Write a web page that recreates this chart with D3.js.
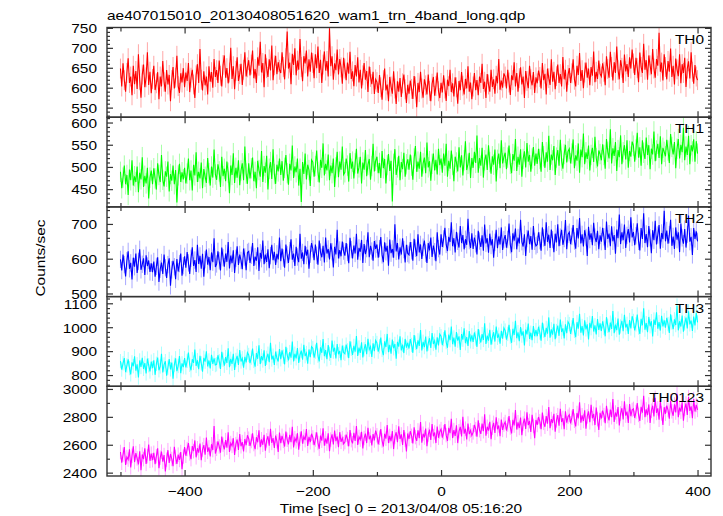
<!DOCTYPE html>
<html><head><meta charset="utf-8">
<script src="https://cdn.jsdelivr.net/npm/d3@7"></script>
<style>
body{margin:0;background:#fff}
svg{display:block}
text{font-family:"Liberation Sans",Arial,Helvetica,sans-serif;fill:#000}
</style>
</head><body>
<svg id="chart" width="723" height="516"></svg>
<script>
// ---- data: count rates in 2 s bins starting at -500 s ----
const tStart = -500, tStep = 2;
const th0 = [
648,603,661,619,590,637,674,612,628,581,655,609,642,597,684,620,575,633,658,601,626,689,607,640,586,
622,655,594,611,639,571,628,603,667,615,590,644,608,632,566,619,652,598,625,680,604,587,636,613,649,
601,638,617,662,589,625,645,608,574,631,659,612,697,620,593,641,606,628,583,654,615,639,600,672,627,
644,612,668,630,603,657,681,625,649,611,638,700,622,654,596,642,676,617,634,660,607,645,689,628,651,
669,631,658,693,624,647,612,676,655,715,638,662,601,684,649,627,671,643,706,619,656,680,634,664,645,
637,689,652,621,674,741,648,663,609,685,657,699,631,668,645,722,652,616,679,661,693,628,671,640,688,
662,624,684,649,703,637,670,612,658,691,643,667,628,749,654,679,620,661,644,696,633,672,651,610,675,
648,619,663,635,690,622,641,604,657,628,676,613,645,598,631,662,620,642,589,653,627,609,640,584,621,
614,587,632,601,570,619,648,593,608,566,627,603,585,641,598,559,616,590,624,577,611,633,596,562,607,
585,618,597,572,629,603,551,612,589,640,598,575,621,606,583,633,592,566,610,627,580,604,638,591,574,
612,588,631,598,567,620,604,645,589,611,578,626,601,560,617,594,639,605,583,622,598,654,590,613,571,
603,637,594,619,581,628,612,660,597,615,574,634,608,590,645,602,621,585,630,611,672,595,618,600,636,
628,598,645,613,582,631,619,664,603,637,590,624,651,608,628,574,642,617,599,655,621,606,639,587,626,
611,643,627,598,662,619,635,583,648,624,607,671,615,640,596,629,658,612,634,603,677,621,645,590,632,
649,612,636,671,620,603,655,632,687,617,644,599,638,663,625,648,606,652,630,691,614,640,622,668,635,
628,661,640,606,679,647,625,690,652,618,664,637,703,645,621,669,650,612,683,641,659,627,676,648,696,
661,632,675,649,614,688,652,637,710,645,669,620,681,656,634,697,648,625,672,655,738,640,663,618,684,
652,621,667,640,698,627,655,608,673,646,629,684,611,659,637,675,602,648,666,623,689,640,610,657,628,
619];
const th1 = [
489,452,476,503,461,482,437,494,470,515,458,479,466,501,443,487,472,522,455,480,463,498,429,476,492,
461,497,474,449,508,482,466,527,471,456,490,478,512,445,484,469,503,461,493,420,481,507,466,488,472,
498,463,485,519,470,492,447,505,481,533,466,489,474,510,452,495,478,464,520,486,458,501,476,539,483,
471,506,490,455,523,479,496,468,512,487,441,503,482,531,464,498,476,515,459,492,508,470,546,485,462,
508,474,497,521,468,489,452,514,493,478,536,466,502,487,525,449,496,511,473,540,484,462,505,490,519,
482,513,469,498,527,486,460,507,492,548,475,501,488,519,458,496,421,511,484,530,472,505,493,457,516,
511,478,502,537,489,465,516,498,553,481,507,492,528,470,503,486,519,455,499,534,477,512,494,546,483,
488,519,503,467,531,496,512,474,508,541,485,499,523,463,510,494,538,479,505,518,471,502,552,490,514,
523,486,509,475,536,497,518,463,504,529,491,514,422,507,540,482,499,525,470,511,495,532,478,506,517,
494,528,503,471,519,547,489,512,496,534,478,508,521,486,555,499,513,469,507,530,492,516,483,541,504,
519,487,530,503,552,478,514,496,537,505,468,523,510,490,544,499,526,481,515,558,493,507,532,475,520,
498,534,509,571,487,520,503,543,476,515,528,493,549,511,485,524,505,539,467,516,530,497,560,508,522,
532,495,521,548,507,486,529,514,563,491,523,505,540,478,518,535,499,554,512,527,489,519,545,503,530,
507,541,518,489,556,524,498,533,512,570,493,528,515,547,482,521,538,503,561,514,496,529,550,510,535,
541,508,530,562,497,526,514,553,487,539,522,575,506,533,518,548,492,527,543,511,568,520,501,537,529,
515,551,527,496,563,534,519,585,508,542,525,556,491,538,522,571,506,533,549,517,560,498,536,523,557,
548,512,539,577,521,544,503,560,532,518,566,527,549,495,541,528,580,513,537,552,520,569,506,543,534,
524,561,537,509,574,545,528,556,497,541,563,519,550,533,588,515,546,527,570,506,549,535,562,512,558,
530];
const th2 = [
598,566,612,583,549,594,621,571,588,540,603,577,615,559,592,627,568,584,601,553,610,579,595,562,587,
561,592,548,578,604,533,570,589,556,612,574,545,583,601,522,568,594,577,541,599,563,586,615,551,580,
607,574,619,588,556,601,633,579,596,562,640,585,608,571,614,548,597,626,583,605,567,618,590,659,576,
585,621,594,566,632,603,577,615,591,648,572,609,587,624,559,601,636,582,612,595,570,629,605,567,618,
621,588,610,645,579,606,594,633,565,617,600,652,584,612,591,627,573,609,640,596,620,582,614,598,661,
593,629,602,574,641,611,588,623,656,597,615,579,634,605,590,672,600,618,584,637,609,626,571,613,645,
628,596,641,610,583,652,619,604,637,589,661,615,628,598,644,620,575,634,612,683,601,625,607,649,622,
609,645,618,587,660,626,601,638,615,672,597,631,620,654,588,642,613,629,676,604,637,622,594,651,628,
641,603,629,662,611,590,647,620,637,580,655,616,628,603,699,621,645,598,633,612,659,626,589,640,615,
611,648,623,594,657,630,607,670,618,641,599,633,652,616,588,645,624,661,605,638,620,593,676,629,612,
670,634,657,689,641,622,663,648,705,636,659,618,677,650,632,694,645,668,627,656,640,715,652,631,673,
628,661,643,612,680,651,634,667,623,698,644,659,617,672,638,656,603,647,683,630,664,641,690,625,655,
668,632,655,701,640,619,673,652,687,627,661,644,712,649,635,670,608,658,681,642,665,626,694,650,637,
641,676,652,623,690,660,637,705,648,669,631,684,655,619,672,647,699,636,662,683,640,658,711,627,670,
676,642,664,697,651,629,688,658,717,644,670,635,682,661,608,692,655,673,639,703,662,648,680,627,667,
649,689,663,625,707,657,672,636,693,650,668,614,684,659,727,642,676,653,698,631,667,685,647,719,661,
677,639,666,702,650,624,688,657,731,645,671,633,694,660,616,682,653,709,641,668,697,629,674,656,738,
650,681,643,669,712,637,664,628,690,655,676,619,701,660,643,685,632,670,724,649,663,611,688,657,679,
650];
const th3 = [
858,823,849,871,812,840,866,829,803,853,837,878,818,845,790,861,834,872,826,850,807,869,841,815,856,
829,862,801,847,873,820,836,889,811,844,858,797,831,867,824,852,785,843,870,816,838,879,808,849,833,
871,832,859,894,843,820,866,851,907,838,862,825,880,849,814,872,856,899,836,861,828,885,847,870,842,
845,883,858,826,897,864,839,875,851,912,833,868,847,889,821,863,880,842,905,857,870,831,876,853,894,
884,850,873,911,859,835,892,868,924,846,879,861,903,838,872,889,854,935,865,881,842,898,870,857,909,
866,903,877,845,918,884,861,896,873,940,857,889,870,913,851,885,902,864,926,879,892,848,907,875,919,
912,873,898,935,881,857,916,893,951,879,904,866,925,889,872,944,898,914,869,930,887,901,862,923,894,
889,927,903,871,941,910,884,922,898,963,880,915,893,937,874,908,929,887,952,906,919,876,933,900,945,
934,898,920,957,905,883,941,917,972,896,926,889,948,912,930,868,939,919,962,903,927,892,951,915,935,
911,950,926,893,967,935,908,945,922,988,903,939,917,961,899,932,954,913,976,930,944,906,958,924,971,
962,925,950,987,938,914,969,946,1003,929,957,919,980,944,962,905,971,948,995,933,959,922,984,941,966,
939,978,953,918,992,960,936,971,947,1016,930,965,944,989,927,958,979,940,1003,956,969,931,985,952,997,
986,948,972,1010,961,935,993,968,1027,954,979,942,1001,965,983,924,990,970,1015,951,977,946,1005,963,988,
963,1002,978,944,1019,986,959,997,973,1041,956,991,969,1014,950,984,1007,964,1032,980,995,953,1012,975,1023,
1013,972,999,1038,985,958,1021,994,1056,977,1005,966,1029,991,1012,949,1018,996,1047,982,1008,970,1034,989,1016,
984,1025,998,962,1042,1006,979,1019,993,1068,975,1011,988,1036,969,1003,1027,983,1052,999,1014,972,1030,995,1046,
1026,987,1012,1053,999,972,1035,1008,1079,990,1017,979,1043,1004,1025,961,1032,1010,1062,994,1021,986,1048,1003,1029,
998,1039,1013,976,1054,1020,992,1033,1009,1091,987,1025,1003,1049,981,1016,1040,995,1067,1012,1028,984,1045,1007,1060,
1020];
const th0123 = [
2548,2471,2529,2583,2456,2512,2494,2567,2438,2521,2589,2476,2540,2502,2459,2553,2418,2530,2497,2574,2463,2518,2602,2485,2536,
2489,2542,2461,2518,2575,2432,2507,2551,2478,2526,2409,2493,2561,2470,2534,2498,2447,2586,2512,2463,2529,2491,2548,2425,2515,
2583,2521,2569,2612,2538,2497,2590,2554,2631,2510,2575,2543,2608,2489,2566,2597,2528,2651,2549,2581,2516,2604,2562,2735,2537,
2571,2624,2588,2543,2659,2601,2567,2633,2579,2690,2548,2612,2592,2647,2527,2605,2638,2563,2676,2589,2619,2552,2641,2597,2668,
2643,2591,2627,2682,2605,2568,2654,2618,2703,2583,2639,2600,2671,2557,2632,2661,2594,2714,2613,2648,2577,2666,2625,2549,2687,
2611,2664,2628,2587,2695,2636,2602,2671,2619,2728,2580,2647,2624,2683,2565,2641,2697,2608,2659,2633,2713,2592,2656,2618,2679,
2652,2597,2638,2689,2613,2571,2666,2629,2718,2594,2645,2608,2682,2553,2637,2674,2602,2701,2626,2659,2583,2690,2621,2648,2606,
2619,2672,2641,2589,2706,2633,2610,2685,2627,2734,2598,2656,2637,2693,2574,2648,2680,2612,2721,2639,2665,2595,2677,2631,2702,
2668,2603,2651,2712,2630,2587,2679,2644,2741,2612,2663,2625,2698,2569,2656,2690,2619,2733,2641,2674,2598,2705,2637,2552,2681,
2641,2697,2664,2609,2725,2655,2628,2703,2647,2762,2615,2679,2652,2716,2590,2671,2708,2634,2749,2661,2688,2612,2731,2650,2694,
2712,2651,2690,2748,2669,2627,2721,2683,2786,2648,2705,2664,2739,2612,2697,2728,2659,2801,2680,2715,2638,2752,2676,2703,2666,
2689,2743,2712,2658,2775,2704,2678,2751,2697,2818,2665,2729,2701,2764,2640,2722,2757,2685,2797,2711,2738,2661,2780,2706,2745,
2763,2702,2745,2806,2724,2681,2779,2738,2849,2709,2761,2720,2795,2668,2752,2787,2713,2832,2741,2770,2692,2815,2735,2647,2778,
2742,2799,2768,2711,2830,2757,2729,2805,2751,2871,2718,2784,2756,2822,2693,2775,2812,2737,2858,2763,2791,2712,2840,2758,2801,
2815,2753,2794,2856,2772,2731,2828,2789,2904,2758,2811,2770,2847,2715,2803,2839,2761,2887,2790,2822,2741,2866,2784,2706,2829,
2788,2845,2813,2754,2879,2806,2775,2852,2797,2927,2763,2831,2802,2870,2739,2824,2862,2781,2911,2809,2838,2756,2891,2805,2849,
2857,2793,2835,2898,2814,2771,2872,2830,2951,2798,2853,2812,2889,2757,2844,2880,2803,2936,2828,2861,2779,2917,2825,2742,2869,
2822,2881,2849,2787,2913,2840,2808,2889,2831,2966,2797,2866,2837,2905,2772,2857,2896,2814,2942,2843,2875,2790,2928,2838,2885,
2850];

const seriesValues = [th0, th1, th2, th3, th0123];
const seriesNames  = ["TH0", "TH1", "TH2", "TH3", "TH0123"];
const seriesErr    = [25, 23, 25, 30, 52];
const yDomains     = [[526, 751], [410, 612], [491, 749], [753, 1128], [2376, 3019]];
const yMajorTicks  = [[550, 600, 650, 700, 750], [450, 500, 550, 600], [500, 600, 700], [800, 900, 1000, 1100], [2400, 2600, 2800, 3000]];
const yMinorStep   = [10, 10, 20, 20, 100];
const xDomain      = [-521, 421];
const xMajorTicks  = [-400, -200, 0, 200, 400];
const xMinorTicks  = [-500, -300, -100, 100, 300];
const titleText = "ae407015010_20130408051620_wam1_trn_4band_long.qdp";
const xLabelText = "Time [sec] 0 = 2013/04/08 05:16:20";
const yLabelText = "Counts/sec";

// ---- styles / layout ----
const colors = ["#ff0000", "#00ff00", "#0000ff", "#00ffff", "#ff00ff"];
const L = 107, R = 711, T = 27.5, B = 476;
const ph = (B - T) / 5;
const SX = 1.16; // horizontal text stretch
const FS = 13.3;

const svg = d3.select("#chart");
const x = d3.scaleLinear().domain(xDomain).range([L, R]);

seriesValues.forEach((vals, i) => {
  const top = T + i * ph, bot = top + ph;
  const y = d3.scaleLinear().domain(yDomains[i]).range([bot, top]);
  const data = vals.map((v, j) => ({t: tStart + j * tStep, v}));
  const g = svg.append("g");
  const clipId = "clip" + i;
  svg.append("clipPath").attr("id", clipId).append("rect")
    .attr("x", L).attr("y", top).attr("width", R - L).attr("height", ph);

  const pg = g.append("g").attr("clip-path", `url(#${clipId})`);
  // error bars
  pg.append("g").selectAll("line").data(data).join("line")
    .attr("x1", d => x(d.t)).attr("x2", d => x(d.t))
    .attr("y1", d => y(d.v - seriesErr[i])).attr("y2", d => y(d.v + seriesErr[i]))
    .attr("stroke", colors[i]).attr("stroke-opacity", 0.35).attr("stroke-width", 1);
  // line
  pg.append("path").datum(data)
    .attr("d", d3.line().x(d => x(d.t)).y(d => y(d.v)))
    .attr("fill", "none").attr("stroke", colors[i]).attr("stroke-width", 1.1);

  // y axes left
  const yl = g.append("g").attr("transform", `translate(${L},0)`)
    .call(d3.axisLeft(y).tickValues(yMajorTicks[i]).tickSize(-6).tickPadding(10 / SX).tickFormat(d3.format("d")));
  yl.select(".domain").remove();
  yl.selectAll("text").attr("font-size", FS).attr("font-family", null).attr("dy", "0.36em")
    .attr("transform", `scale(${SX},1)`);
  const minors = d3.range(Math.ceil(yDomains[i][0] / yMinorStep[i]) * yMinorStep[i], yDomains[i][1], yMinorStep[i])
    .filter(v => !yMajorTicks[i].includes(v));
  const ylm = g.append("g").attr("transform", `translate(${L},0)`)
    .call(d3.axisLeft(y).tickValues(minors).tickSize(-3).tickFormat(""));
  ylm.select(".domain").remove();
  // right axes
  const yr = g.append("g").attr("transform", `translate(${R},0)`)
    .call(d3.axisRight(y).tickValues(yMajorTicks[i]).tickSize(-6).tickFormat(""));
  yr.select(".domain").remove();
  const yrm = g.append("g").attr("transform", `translate(${R},0)`)
    .call(d3.axisRight(y).tickValues(minors).tickSize(-3).tickFormat(""));
  yrm.select(".domain").remove();

  // x ticks top and bottom of each panel
  [[xMajorTicks, 6], [xMinorTicks, 4]].forEach(([tv, len]) => {
    const xt = g.append("g").attr("transform", `translate(0,${top})`)
      .call(d3.axisTop(x).tickValues(tv).tickSize(-len).tickFormat(""));
    xt.select(".domain").remove();
    const xb = g.append("g").attr("transform", `translate(0,${bot})`)
      .call(d3.axisBottom(x).tickValues(tv).tickSize(-len).tickFormat(""));
    xb.select(".domain").remove();
  });

  // frame
  g.append("rect").attr("x", L).attr("y", top).attr("width", R - L).attr("height", ph)
    .attr("fill", "none").attr("stroke", "#333").attr("stroke-width", 1.4);

  // panel label
  g.append("text").attr("font-size", FS).attr("text-anchor", "end")
    .attr("transform", `translate(704,${top + 16}) scale(${SX},1)`)
    .text(seriesNames[i]);

  if (i === 4) {
    const xa = g.append("g").attr("transform", `translate(0,${bot})`)
      .call(d3.axisBottom(x).tickValues(xMajorTicks).tickSize(0).tickPadding(11).tickFormat(d3.format("d")));
    xa.select(".domain").remove();
    xa.selectAll("text").attr("font-size", FS).attr("font-family", null)
      .attr("transform", `scale(${SX},1)`);
  }
  g.selectAll(".tick line").attr("stroke", "#333").attr("stroke-width", 1.2);
});

svg.append("text").attr("font-size", FS)
  .attr("transform", `translate(107,20) scale(${SX},1)`).text(titleText);
svg.append("text").attr("font-size", FS).attr("text-anchor", "middle")
  .attr("transform", `translate(401,513) scale(${SX},1)`).text(xLabelText);
svg.append("text").attr("font-size", FS).attr("text-anchor", "middle")
  .attr("transform", `translate(45,258) rotate(-90) scale(${SX},1)`).text(yLabelText);
</script>
</body></html>
